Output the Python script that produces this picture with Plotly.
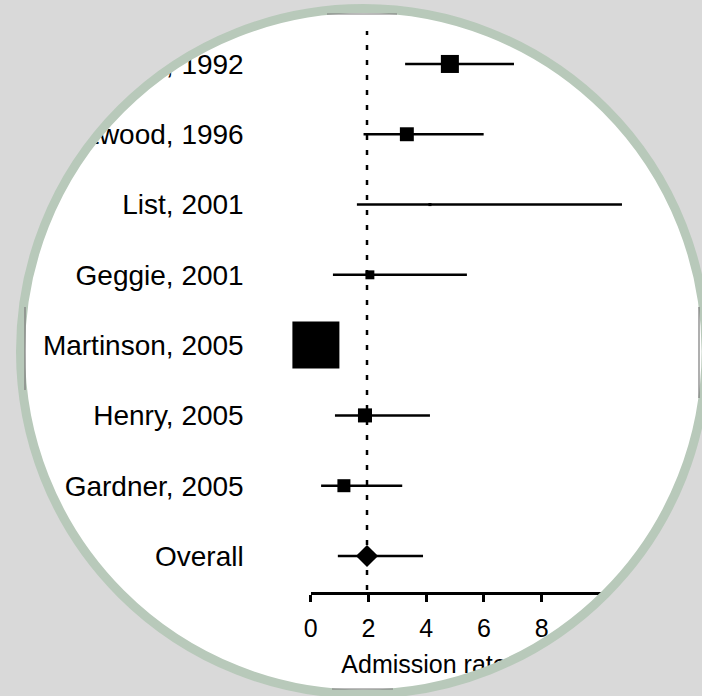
import numpy as np
import plotly.graph_objects as go

# Forest plot data: study labels, admission-rate estimates, 95% CI and weights (%)
studies = ["Turner, 1992", "Attwood, 1996", "List, 2001", "Geggie, 2001",
           "Martinson, 2005", "Henry, 2005", "Gardner, 2005"]
estimate = [4.82, 3.33, 4.13, 2.05, 0.18, 1.88, 1.15]
ci_low = [3.27, 1.83, 1.60, 0.77, 0.05, 0.84, 0.36]
ci_high = [7.04, 5.99, 10.78, 5.41, 0.32, 4.13, 3.17]
weight = [10.2, 6.1, 0.3, 2.5, 69.4, 6.2, 5.3]

overall_label = "Overall"
overall_est = 1.95
overall_low = 0.94
overall_high = 3.89

x_ticks = [0, 2, 4, 6, 8, 10, 12]
x_title = "Admission rate (%)"

W, H = 702, 696
labels = studies + [overall_label]
rows = list(range(len(labels)))

# confidence-interval whiskers, one segment per row
cx, cy = [], []
for r, lo, hi in zip(rows, ci_low + [overall_low], ci_high + [overall_high]):
    cx += [lo, hi, None]
    cy += [r, r, None]

# square area proportional to study weight
sizes = [5.643 * np.sqrt(w) for w in weight] + [17]
symbols = ["square"] * len(studies) + ["diamond"]

font = "Liberation Sans, Arial, sans-serif"

fig = go.Figure()
fig.add_trace(go.Scatter(x=cx, y=cy, mode="lines",
                         line=dict(color="black", width=2.5),
                         hoverinfo="skip", showlegend=False))
fig.add_trace(go.Scatter(x=estimate + [overall_est], y=rows, mode="markers",
                         marker=dict(symbol=symbols, size=sizes, color="black",
                                     opacity=1, line=dict(width=0)),
                         cliponaxis=False, showlegend=False))
# axis title, kept in the data layer so the round frame masks it
fig.add_trace(go.Scatter(x=[1.06], y=[8.58], mode="text", text=[x_title],
                         textposition="middle right",
                         textfont=dict(family=font, size=25, color="black"),
                         cliponaxis=False, hoverinfo="skip", showlegend=False))

axis_y = 593  # pixel row of the x axis line
fig.update_xaxes(range=[0, 12], domain=[310.7 / W, (310.7 + 12 * 28.875) / W],
                 anchor="free", position=1 - axis_y / H, automargin=False,
                 tickvals=x_ticks, showline=True, linecolor="black", linewidth=3,
                 ticks="outside", ticklen=7, tickwidth=3, tickcolor="black",
                 showgrid=False, zeroline=False, ticklabelstandoff=5,
                 tickfont=dict(family=font, size=25, color="black"))
fig.update_yaxes(range=[-0.91 + H / 70.29, -0.91], domain=[0, 1], automargin=False,
                 tickvals=rows, ticktext=labels, showgrid=False, zeroline=False,
                 showline=False, ticks="", ticklabelstandoff=66,
                 tickfont=dict(family=font, size=28, color="black"))

# dashed reference line at the pooled estimate
fig.add_shape(type="line", xref="x", yref="paper", x0=overall_est, x1=overall_est,
              y0=1 - 590 / H, y1=1 - 31 / H, layer="below",
              line=dict(color="black", width=2.5, dash="5px,10px"))

# round frame: grey surround with a circular window and a sage ring
ccx, ccy, rad = 363.3, 351.3, 342.8
t = np.linspace(0, 2 * np.pi, 361)
px = ccx + rad * np.cos(t)
py = ccy + rad * np.sin(t)
pts = " L".join(f"{x / W:.5f},{1 - y / H:.5f}" for x, y in zip(px, py))
mask = f"M-0.05,-0.05 L1.05,-0.05 L1.05,1.05 L-0.05,1.05 Z M{pts} Z"
fig.add_shape(type="path", xref="paper", yref="paper", path=mask, layer="above",
              fillcolor="#d9d9d9", fillrule="evenodd", line=dict(width=0))
fig.add_shape(type="circle", xref="paper", yref="paper", layer="above",
              x0=(ccx - rad) / W, x1=(ccx + rad) / W,
              y0=1 - (ccy + rad) / H, y1=1 - (ccy - rad) / H,
              line=dict(color="#b8c9ba", width=9), fillcolor="rgba(0,0,0,0)")
# thin grey border of the panel, showing along the inner edge of the ring
for (x0, y0, x1, y1) in [(327, 14, 397, 14), (332, 689, 393, 689),
                         (25, 307, 25, 390), (699, 307, 699, 398)]:
    fig.add_shape(type="line", xref="paper", yref="paper", layer="above",
                  x0=x0 / W, x1=x1 / W, y0=1 - y0 / H, y1=1 - y1 / H,
                  line=dict(color="#7a7a7a", width=1.2))

fig.update_layout(width=W, height=H, autosize=False,
                  margin=dict(l=0, r=0, t=0, b=0, pad=0),
                  paper_bgcolor="white", plot_bgcolor="white",
                  font=dict(family=font, color="black"), showlegend=False)

fig.write_html("out.html")
